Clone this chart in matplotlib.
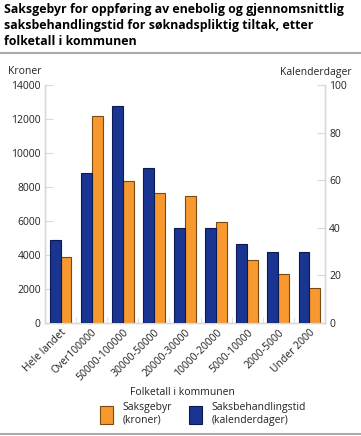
import matplotlib
matplotlib.use("Agg")
import matplotlib.pyplot as plt
import numpy as np
from matplotlib.patches import Patch
from matplotlib.lines import Line2D

categories = ["Hele landet", "Over100000", "50000-100000", "30000-50000", "20000-30000",
              "10000-20000", "5000-10000", "2000-5000", "Under 2000"]
saksgebyr = [3860, 12170, 8380, 7640, 7450, 5940, 3690, 2860, 2080]
saksbehandlingstid = [35, 63, 91, 65, 40, 40, 33, 30, 30]
left_ticks = [0, 2000, 4000, 6000, 8000, 10000, 12000, 14000]
right_ticks = [0, 20, 40, 60, 80, 100]

plt.rcParams['font.family'] = ['Open Sans', 'DejaVu Sans']
BLUE = "#1a3591"
ORANGE = "#f7992f"
GRID = "#d9d9d9"
TXT = "#222222"

fig = plt.figure(figsize=(3.61, 4.36), dpi=100)
ax = fig.add_axes([45/361, 1-323/436, 280/361, 238/436])
ax2 = ax.twinx()

x = np.arange(len(categories))
w = 0.35
ax2.bar(x - w/2, saksbehandlingstid, w, color=BLUE, edgecolor="#0b1a55", linewidth=0.8, zorder=3)
ax.bar(x + w/2, saksgebyr, w, color=ORANGE, edgecolor="#7a4a10", linewidth=0.8, zorder=3)

ax.set_ylim(0, 14000)
ax2.set_ylim(0, 100)
ax.set_xlim(-0.5, len(categories) - 0.5)
ax.set_yticks(left_ticks)
ax2.set_yticks(right_ticks)
ax.set_xticks(x)
ax.set_xticks(np.arange(len(categories) + 1) - 0.5, minor=True)
ax.set_xticklabels(categories, rotation=45, ha="right", rotation_mode="anchor", fontsize=7.5, color=TXT)

for a in (ax, ax2):
    for s in a.spines.values():
        s.set_color(GRID)
        s.set_linewidth(1.0)
    a.spines['top'].set_visible(False)
ax.tick_params(axis='y', direction='in', length=6, color=GRID, labelsize=7.5, labelcolor=TXT, pad=3)
ax2.tick_params(axis='y', direction='in', length=6, color=GRID, labelsize=7.5, labelcolor=TXT, pad=3)
ax.tick_params(axis='x', which='major', length=0, pad=3)
ax.tick_params(axis='x', which='minor', direction='in', length=4, color=GRID)

fig.text(4/361, 1-3/436, "Saksgebyr for oppføring av enebolig og gjennomsnittlig\nsaksbehandlingstid for søknadspliktig tiltak, etter\nfolketall i kommunen",
         fontsize=8.95, fontweight='bold', va='top', ha='left', color="#000000", linespacing=1.32)
fig.add_artist(Line2D([0, 1], [1-53/436, 1-53/436], color="#aaaaaa", linewidth=1.5, transform=fig.transFigure))
fig.add_artist(Line2D([0, 1], [1-434/436, 1-434/436], color="#aaaaaa", linewidth=1.5, transform=fig.transFigure))

fig.text(8/361, 1-72/436, "Kroner", fontsize=7.5, va='center', ha='left', color=TXT)
fig.text(352/361, 1-72/436, "Kalenderdager", fontsize=7.5, va='center', ha='right', color=TXT)
fig.text(182/361, 1-392/436, "Folketall i kommunen", fontsize=7.5, va='center', ha='center', color=TXT)

handles = [Patch(facecolor=ORANGE, edgecolor="#7a4a10", linewidth=0.8),
           Patch(facecolor=BLUE, edgecolor="#0b1a55", linewidth=0.8)]
fig.legend(handles, ["Saksgebyr\n(kroner)", "Saksbehandlingstid\n(kalenderdager)"],
           loc='center', bbox_to_anchor=(203/361, 1-414/436), ncol=2, frameon=False,
           fontsize=7.5, handlelength=1.3, handleheight=2.3, handletextpad=0.9,
           columnspacing=1.6, labelcolor=TXT)

fig.savefig("out.png", dpi=100)
